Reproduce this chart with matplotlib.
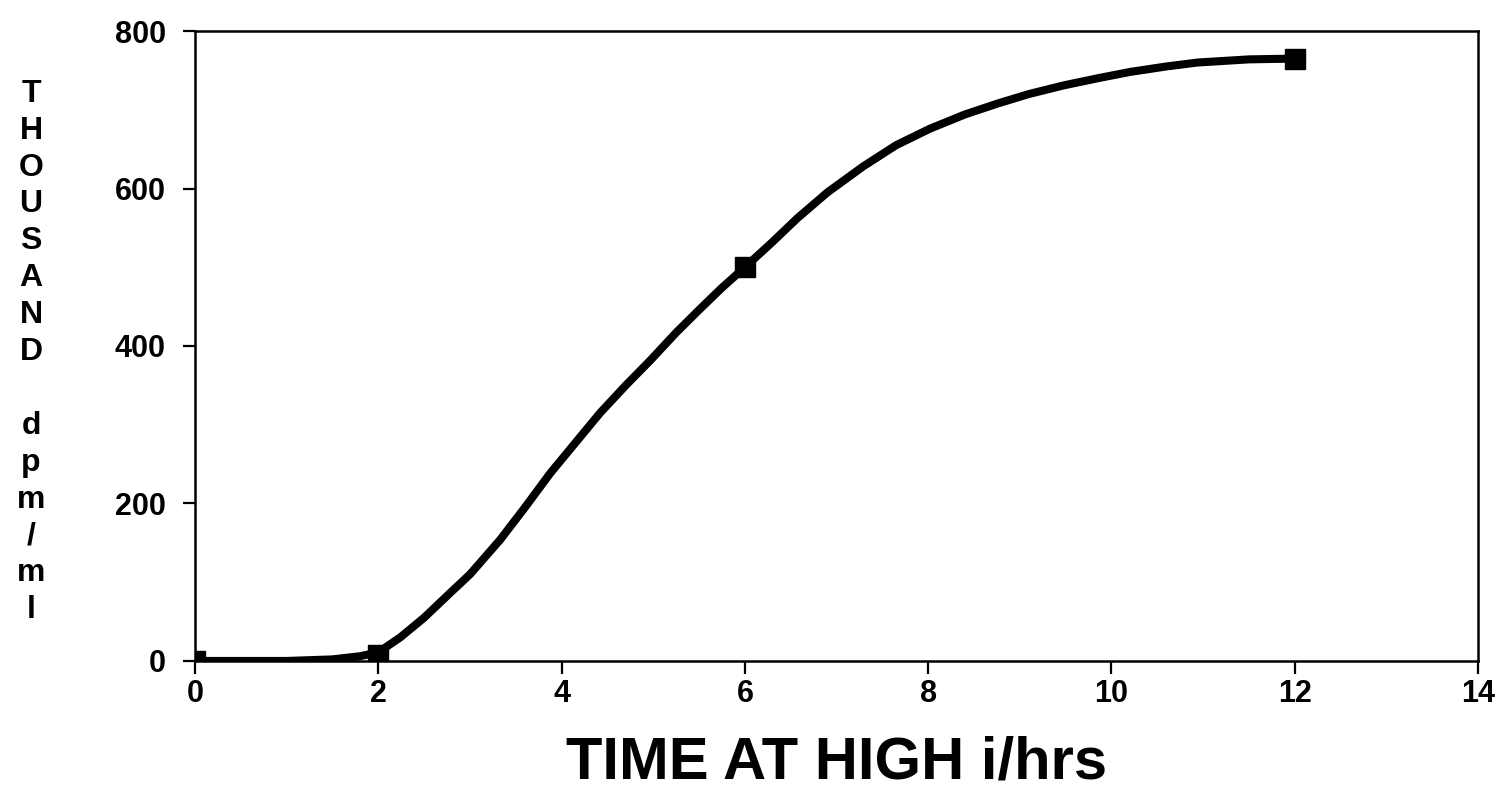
import matplotlib
matplotlib.use("Agg")
import matplotlib.pyplot as plt

# measured points (squares)
point_x = [0, 2, 6, 12]
point_y = [0, 8, 500, 765]

# smooth curve
curve_x = [0, 0.5, 1.0, 1.5, 1.8, 2.0, 2.24, 2.5, 2.78, 3.0, 3.33, 3.6,
           3.88, 4.15, 4.42, 4.7, 4.97, 5.25, 5.51, 5.75, 6.0, 6.3, 6.57,
           6.9, 7.29, 7.65, 8.02, 8.4, 8.76, 9.1, 9.48, 9.85, 10.2, 10.6,
           10.94, 11.5, 12.0]
curve_y = [0, 0, 0, 2, 6, 11, 30, 55, 86, 110, 154, 195,
           239, 277, 315, 350, 382, 417, 447, 474, 500, 532, 562,
           595, 628, 655, 676, 694, 708, 720, 731, 740, 748, 755,
           760, 764, 765]

x_ticks = [0, 2, 4, 6, 8, 10, 12, 14]
y_ticks = [0, 200, 400, 600, 800]

ylabel_text = "THOUSAND dpm/ml"

plt.rcParams["font.family"] = ["Liberation Sans", "DejaVu Sans"]

fig = plt.figure(figsize=(15.04, 8.08), dpi=100)
ax = fig.add_axes([0.1297, 0.182, 0.853, 0.7796])

ax.plot(curve_x, curve_y, color="black", linewidth=5.8,
        solid_capstyle="round", solid_joinstyle="round")
ax.plot(point_x, point_y, linestyle="none", marker="s", markersize=14,
        color="black")

ax.set_xlim(0, 14)
ax.set_ylim(0, 800)
ax.set_xticks(x_ticks)
ax.set_yticks(y_ticks)

ax.tick_params(direction="out", length=9, width=1.6, labelsize=22,
               colors="black")
ax.tick_params(axis="y", pad=12)
ax.tick_params(axis="x", pad=4)
for lab in ax.get_xticklabels() + ax.get_yticklabels():
    lab.set_fontweight("heavy")

for sp in ax.spines.values():
    sp.set_linewidth(1.8)

ax.set_xlabel("TIME AT HIGH i/hrs", fontsize=43, fontweight="bold",
              labelpad=19)

# vertical stacked y label, one letter per line
stacked = "\n".join(ylabel_text)
fig.text(31 / 1504, 1 - 352 / 808, stacked, ha="center", va="center",
         fontsize=23, fontweight="heavy", linespacing=1.3)

fig.savefig("out.png", dpi=100)
